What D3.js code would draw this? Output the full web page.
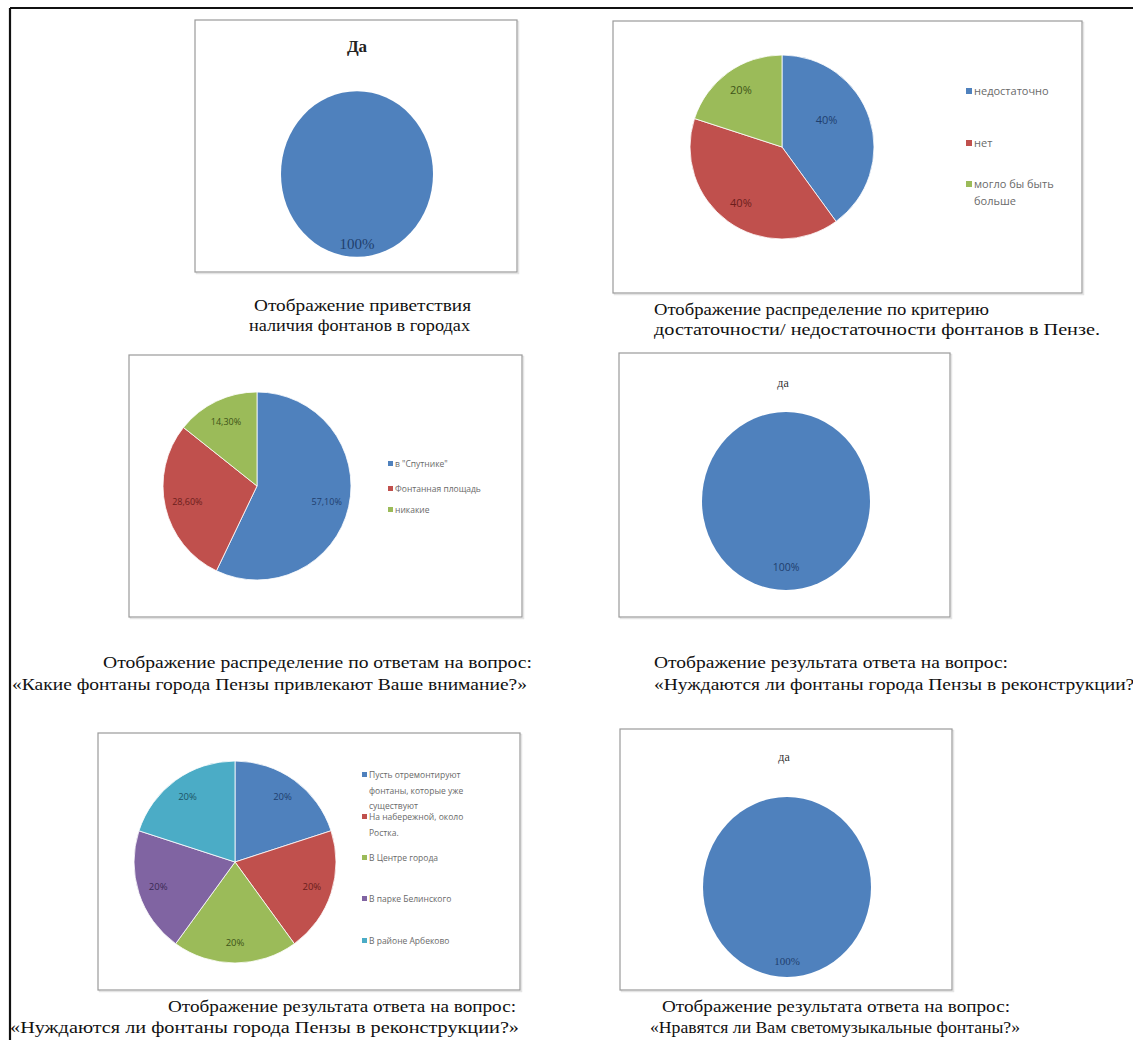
<!DOCTYPE html>
<html>
<head>
<meta charset="utf-8">
<script src="https://cdn.jsdelivr.net/npm/d3@7"></script>
<style>
  html, body { margin: 0; padding: 0; background: #fff; }
  svg { display: block; }
</style>
</head>
<body>
<svg id="sheet" width="1133" height="1040"></svg>
<script>
// ---- survey data -------------------------------------------------------
const fountainsExist = ["Да"];
const fountainsExistValues = [100];

const sufficiencyCategories = ["недостаточно", "нет", "могло бы быть больше"];
const sufficiencyValues = [40, 40, 20];

const attractiveCategories = ["в \"Спутнике\"", "Фонтанная площадь", "никакие"];
const attractiveValues = [57.1, 28.6, 14.3];

const reconstructionYes = ["да"];
const reconstructionYesValues = [100];

const whereCategories = [
  "Пусть отремонтируют фонтаны, которые уже существуют",
  "На набережной, около Ростка.",
  "В Центре города",
  "В парке Белинского",
  "В районе Арбеково"
];
const whereValues = [20, 20, 20, 20, 20];

const musicalYes = ["да"];
const musicalYesValues = [100];

const captions = [
  ["Отображение приветствия", "наличия фонтанов в городах"],
  ["Отображение распределение по критерию", "достаточности/ недостаточности фонтанов в Пензе."],
  ["Отображение распределение по ответам на вопрос:", "«Какие фонтаны города Пензы привлекают Ваше внимание?»"],
  ["Отображение результата ответа на вопрос:", "«Нуждаются ли фонтаны города Пензы в реконструкции?»"],
  ["Отображение результата ответа на вопрос:", "«Нуждаются ли фонтаны города Пензы в реконструкции?»"],
  ["Отображение результата ответа на вопрос:", "«Нравятся ли Вам светомузыкальные фонтаны?»"]
];

// ---- palette -------------------------------------------------------------
const fills  = ["#4F81BD", "#C0504D", "#9BBB59", "#8064A2", "#4BACC6"];
const inks   = ["#1F3F6E", "#6B1E1C", "#3E5418", "#3B2A55", "#1D5566"];

const svg = d3.select("#sheet");

// page frame
svg.append("line").attr("x1", 10).attr("y1", 8).attr("x2", 1133).attr("y2", 8)
  .attr("stroke", "#111").attr("stroke-width", 2.2);
svg.append("line").attr("x1", 10).attr("y1", 8).attr("x2", 10).attr("y2", 1040)
  .attr("stroke", "#111").attr("stroke-width", 2.2);

const pieGen = d3.pie().sort(null).value(d => d);

function chartBox(x0, y0, x1, y1) {
  svg.append("rect")
    .attr("x", x0 + 1.5).attr("y", y0 + 1.5).attr("width", x1 - x0).attr("height", y1 - y0)
    .attr("fill", "none").attr("stroke", "#e4e4e4").attr("stroke-width", 1.5);
  svg.append("rect")
    .attr("x", x0).attr("y", y0).attr("width", x1 - x0).attr("height", y1 - y0)
    .attr("fill", "#fff").attr("stroke", "#9a9a9a").attr("stroke-width", 1.2);
}

function drawPie(opt) {
  const g = svg.append("g")
    .attr("transform", `translate(${opt.cx},${opt.cy}) scale(1,${opt.sy || 1})`);
  const arcs = pieGen(opt.values);
  const arc = d3.arc().innerRadius(0).outerRadius(opt.r);
  const labelArc = d3.arc().innerRadius(opt.r * opt.lr).outerRadius(opt.r * opt.lr);
  g.selectAll("path.slice").data(arcs).join("path")
    .attr("class", "slice")
    .attr("d", arc)
    .attr("fill", (d, i) => fills[i])
    .attr("stroke", arcs.length > 1 ? "#fff" : "none")
    .attr("stroke-width", 0.8);
  const lg = svg.append("g").attr("transform", `translate(${opt.cx},${opt.cy})`);
  lg.selectAll("text").data(arcs).join("text")
    .attr("x", (d, i) => labelArc.centroid(d)[0] + ((opt.nudge && opt.nudge[i]) ? opt.nudge[i][0] : 0))
    .attr("y", (d, i) => labelArc.centroid(d)[1] * (opt.sy || 1) + ((opt.nudge && opt.nudge[i]) ? opt.nudge[i][1] : 0))
    .attr("dy", "0.35em")
    .attr("text-anchor", "middle")
    .attr("font-family", opt.labelFont || "'Open Sans', 'Liberation Sans', sans-serif")
    .attr("font-size", opt.labelSize || 10)
    .attr("fill", (d, i) => inks[i])
    .text((d, i) => opt.format(d.data, i));
}

function legend(opt) {
  const g = svg.append("g");
  opt.items.forEach((lines, i) => {
    const y = opt.ys[i];
    g.append("rect").attr("x", opt.x).attr("y", y - opt.sq + 1).attr("width", opt.sq).attr("height", opt.sq)
      .attr("fill", fills[i]);
    lines.forEach((t, k) => {
      g.append("text")
        .attr("x", opt.x + opt.sq + 2).attr("y", y + 2 + k * opt.lh)
        .attr("font-family", "'Open Sans', 'Liberation Sans', sans-serif")
        .attr("font-size", opt.size).attr("fill", "#6a6a6a")
        .text(t);
    });
  });
}

function caption(lines) {
  lines.forEach(l => {
    svg.append("text")
      .attr("x", l.x).attr("y", l.y)
      .attr("textLength", l.w).attr("lengthAdjust", "spacingAndGlyphs")
      .attr("font-family", "'Liberation Serif', 'DejaVu Serif', serif")
      .attr("font-size", 16.5).attr("fill", "#111")
      .text(l.t);
  });
}

const pct = v => v + "%";
const pctComma = v => v.toFixed(2).replace(".", ",") + "%";

// ---- 1: presence of fountains -------------------------------------------
chartBox(195, 20, 517, 272);
svg.append("text").attr("x", 357).attr("y", 52).attr("text-anchor", "middle")
  .attr("font-family", "'Liberation Serif', serif").attr("font-weight", "bold")
  .attr("font-size", 17).attr("fill", "#222").text(fountainsExist[0]);
drawPie({ cx: 357, cy: 174, r: 76, sy: 1.09, lr: 0.84, values: fountainsExistValues,
  format: pct, labelFont: "'Liberation Serif', serif", labelSize: 15 });
caption([
  { t: captions[0][0], x: 254, y: 311, w: 217 },
  { t: captions[0][1], x: 249, y: 331, w: 221 }
]);

// ---- 2: sufficiency -----------------------------------------------------
chartBox(613, 21, 1082, 293);
drawPie({ cx: 782, cy: 147, r: 92, lr: 0.76, values: sufficiencyValues,
  format: pct, labelSize: 11, nudge: [[-22, -5], [0, 0], [0, 0]] });
legend({ x: 966, sq: 6, size: 11, lh: 17, ys: [93, 145, 186],
  items: [["недостаточно"], ["нет"], ["могло бы быть", "больше"]] });
caption([
  { t: captions[1][0], x: 654, y: 315, w: 335 },
  { t: captions[1][1], x: 654, y: 335, w: 446 }
]);

// ---- 3: attractive fountains -------------------------------------------
chartBox(129, 355, 522, 617);
drawPie({ cx: 257, cy: 486, r: 94, lr: 0.76, values: attractiveValues,
  format: pctComma, labelSize: 9 });
legend({ x: 388, sq: 5, size: 8.5, lh: 11, ys: [465, 490, 511],
  items: [[attractiveCategories[0]], [attractiveCategories[1]], [attractiveCategories[2]]] });
caption([
  { t: captions[2][0], x: 103, y: 668, w: 429 },
  { t: captions[2][1], x: 12, y: 690, w: 515 }
]);

// ---- 4: reconstruction needed ------------------------------------------
chartBox(619, 353, 950, 617);
svg.append("text").attr("x", 783).attr("y", 387).attr("text-anchor", "middle")
  .attr("font-family", "'Liberation Serif', serif").attr("font-size", 12)
  .attr("fill", "#333").text(reconstructionYes[0]);
drawPie({ cx: 786, cy: 501, r: 84, sy: 1.06, lr: 0.74, values: reconstructionYesValues,
  format: pct, labelSize: 10.5 });
caption([
  { t: captions[3][0], x: 654, y: 668, w: 354 },
  { t: captions[3][1], x: 654, y: 690, w: 490 }
]);

// ---- 5: where to build -------------------------------------------------
chartBox(98, 733, 520, 990);
drawPie({ cx: 235, cy: 862, r: 101, lr: 0.8, values: whereValues,
  format: pct, labelSize: 9.5 });
legend({ x: 362, sq: 5, size: 8.5, lh: 15.5, ys: [776, 818, 859, 900, 942],
  items: [["Пусть отремонтируют", "фонтаны, которые уже", "существуют"],
          ["На набережной, около", "Ростка."],
          [whereCategories[2]], [whereCategories[3]], [whereCategories[4]]] });
caption([
  { t: captions[4][0], x: 168, y: 1012, w: 348 },
  { t: captions[4][1], x: 10, y: 1033, w: 509 }
]);

// ---- 6: light-and-music fountains --------------------------------------
chartBox(620, 729, 952, 990);
svg.append("text").attr("x", 784).attr("y", 761).attr("text-anchor", "middle")
  .attr("font-family", "'Liberation Serif', serif").attr("font-size", 12)
  .attr("fill", "#333").text(musicalYes[0]);
drawPie({ cx: 787, cy: 887, r: 84, sy: 1.07, lr: 0.82, values: musicalYesValues,
  format: pct, labelFont: "'Liberation Serif', serif", labelSize: 11 });
caption([
  { t: captions[5][0], x: 662, y: 1012, w: 348 },
  { t: captions[5][1], x: 650, y: 1033, w: 370 }
]);
</script>
</body>
</html>
